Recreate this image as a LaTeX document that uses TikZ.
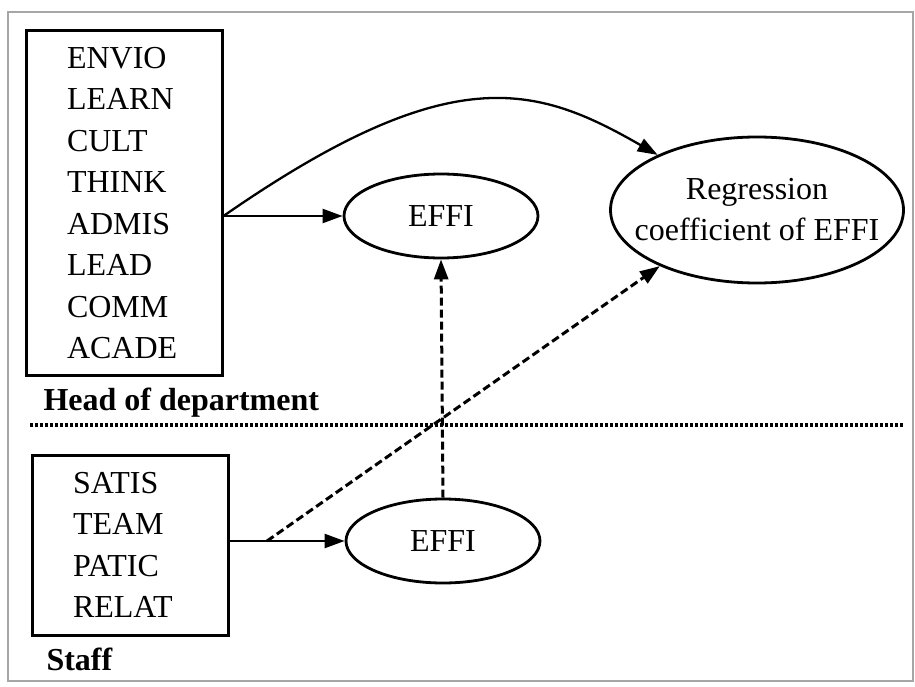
\documentclass[tikz,border=0pt]{standalone}
\usepackage{fontspec}
\setmainfont{Liberation Serif}
\usetikzlibrary{shapes,arrows.meta,positioning}

\begin{document}
\begin{tikzpicture}[
        x=1pt, y=-1pt,
        varbox/.style={rectangle, draw, line width=3pt, minimum width=196pt, text width=114pt, inner xsep=41pt, align=left, font=\fontsize{32}{41.5}\selectfont},
        effi/.style={ellipse, draw, line width=2.8pt, minimum width=194pt, minimum height=84pt, inner sep=0pt, align=center, font=\fontsize{32}{41}\selectfont},
        grouplabel/.style={anchor=base west, font=\fontsize{32}{38}\selectfont\bfseries},
        arrow/.style={-{Triangle[length=20pt,width=14pt]}, line width=2.3pt},
        dasharrow/.style={arrow, line width=3pt, dash pattern=on 8pt off 4pt}
    ]
        \useasboundingbox (0,0) rectangle (915,687);
        \draw[gray!70, line width=1.6pt] (8,12) rectangle (913,681);

        % Head of department
        \node[varbox, minimum height=344pt] (hvars) at (124,203) {ENVIO\\LEARN\\CULT\\THINK\\ADMIS\\LEAD\\COMM\\ACADE};
        \node[grouplabel] (hlabel) at (40,410) {Head of department};
        \node[effi] (heffi) at (441,216) {EFFI};
        \node[effi, minimum width=293pt, minimum height=146pt, inner xsep=-20pt] (regcoef) at (757,210) {Regression\\coefficient of EFFI};

        % Staff
        \node[varbox, minimum height=180pt] (svars) at (130,545) {SATIS\\TEAM\\PATIC\\RELAT};
        \node[grouplabel] (slabel) at (43,670) {Staff};
        \node[effi] (seffi) at (443,541) {EFFI};

        % Divider
        \coordinate (divl) at (30,425);
        \coordinate (divr) at (903,425);
        \draw[line width=3.4pt, dash pattern=on 3pt off 2pt] (divl) -- (divr);

        % Arrows
        \coordinate (hsplit) at (hvars.east |- heffi.west);
        \coordinate (ssplit) at (267,541);
        \draw[arrow] (hsplit) -- (heffi.west);
        \draw[arrow] (hsplit) .. controls (451,58) and (536,85) .. (regcoef.151);
        \draw[arrow] (svars.east |- seffi.west) -- (seffi.west);
        \draw[dasharrow] (seffi.north) -- (heffi.south);
        \draw[dasharrow] (ssplit) -- (regcoef.210);
    \end{tikzpicture}
\end{document}
